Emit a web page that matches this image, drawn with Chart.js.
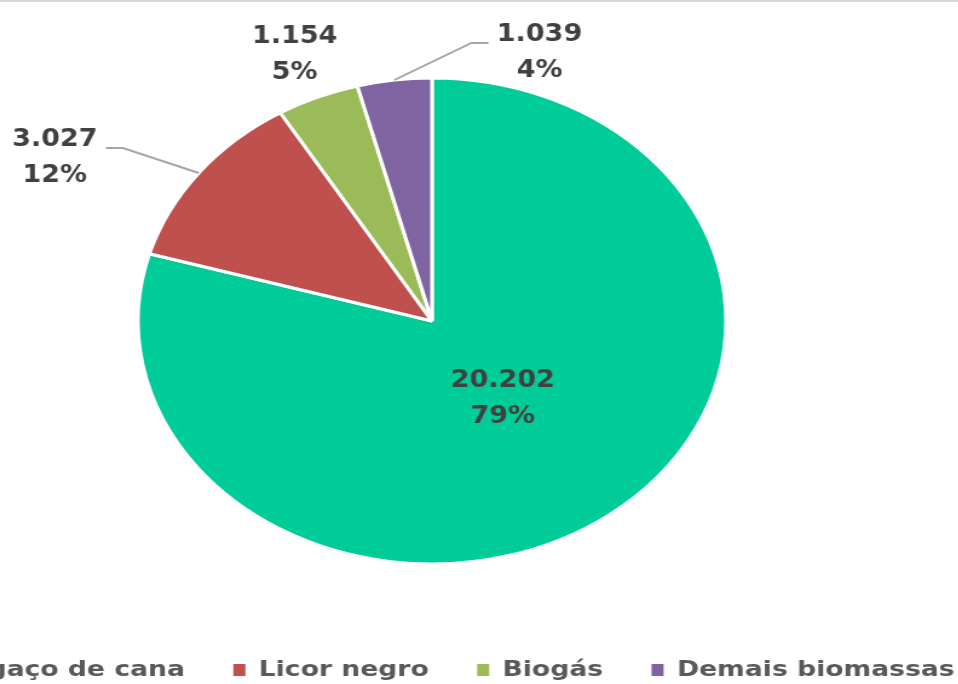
<!DOCTYPE html>
<html>
<head>
<meta charset="utf-8">
<script src="https://cdn.jsdelivr.net/npm/chart.js@4.4.1/dist/chart.umd.min.js"></script>
<style>
  html, body { margin: 0; padding: 0; background: #fff; }
  #frame { position: relative; width: 958px; height: 684px; overflow: hidden; background: #fff; }
  #frame .rule { position: absolute; left: 0; top: 0; width: 100%; height: 2px; background: #d9d9d9; z-index: 2; }
  /* the whole chart is drawn on a narrower canvas and widened afterwards */
  #stretch { position: absolute; left: -173px; top: 0; transform: scaleX(1.21); transform-origin: 0 0; }
</style>
</head>
<body>
<div id="frame">
  <div class="rule"></div>
  <div id="stretch"><canvas id="biomassChart" width="1000" height="691"></canvas></div>
</div>
<script>
const fuels = ["Bagaço de cana", "Licor negro", "Biogás", "Demais biomassas"];
const capacity = [20202, 3027, 1154, 1039];
const sliceColors = ["#00CC99", "#C0504D", "#9BBB59", "#8064A2"];

// where each value label sits: inside the slice, or pushed off the rim (with an optional leader line)
const labelPlacement = [
  { inside: 0.4 },
  { dx: -119, dy: -15, leader: "right" },
  { dx: -19, dy: -42 },
  { dx: 120, dy: -27, leader: "left" }
];

const squeeze = 0.93;   // labels are drawn a little narrower than the font
const lineGap = 36;
const legendNudge = 6;  // legend row sits slightly right of the pie centre

function formatThousands(v) {
  return String(v).replace(/\B(?=(\d{3})+(?!\d))/g, ".");
}

const sliceLabels = {
  id: "sliceLabels",
  afterLayout(chart) {
    chart.legend.left += legendNudge;
    chart.legend.right += legendNudge;
  },
  afterDatasetsDraw(chart) {
    const { ctx } = chart;
    const arcs = chart.getDatasetMeta(0).data;
    const total = capacity.reduce((a, b) => a + b, 0);
    ctx.save();
    ctx.font = 'bold 24px "DejaVu Sans"';
    ctx.fillStyle = "#404040";
    ctx.strokeStyle = "#a6a6a6";
    ctx.lineWidth = 2;
    ctx.textAlign = "center";
    ctx.textBaseline = "middle";

    arcs.forEach((arc, i) => {
      const { x, y, startAngle, endAngle, outerRadius } =
        arc.getProps(["x", "y", "startAngle", "endAngle", "outerRadius"], true);
      const mid = (startAngle + endAngle) / 2;
      const place = labelPlacement[i];
      const lines = [formatThousands(capacity[i]), Math.round(capacity[i] / total * 100) + "%"];
      const rimX = x + Math.cos(mid) * outerRadius;
      const rimY = y + Math.sin(mid) * outerRadius;

      let lx, ly;
      if (place.inside) {
        lx = x + Math.cos(mid) * outerRadius * place.inside;
        ly = y + Math.sin(mid) * outerRadius * place.inside;
      } else {
        lx = rimX + place.dx;
        ly = rimY + place.dy;
      }

      if (place.leader) {
        const half = ctx.measureText(lines[0]).width * squeeze / 2;
        const side = place.leader === "right" ? 1 : -1;
        const endX = lx + side * (half + 7);
        const endY = ly - 10;
        ctx.beginPath();
        ctx.moveTo(rimX, rimY);
        ctx.lineTo(endX + side * 14, endY);
        ctx.lineTo(endX, endY);
        ctx.stroke();
      }

      lines.forEach((t, k) => {
        ctx.save();
        ctx.translate(lx, ly + (k - 0.5) * lineGap);
        ctx.scale(squeeze, 1);
        ctx.fillText(t, 0, 0);
        ctx.restore();
      });
    });
    ctx.restore();
  }
};

const ctx = document.getElementById("biomassChart").getContext("2d");
new Chart(ctx, {
  type: "pie",
  data: {
    labels: fuels,
    datasets: [{
      data: capacity,
      backgroundColor: sliceColors,
      borderColor: "#ffffff",
      borderWidth: 3,
      radius: 243
    }]
  },
  options: {
    responsive: false,
    animation: false,
    layout: { padding: { top: 23 } },
    plugins: {
      tooltip: { enabled: false },
      legend: {
        position: "bottom",
        labels: {
          font: { family: '"DejaVu Sans"', size: 22, weight: "bold" },
          color: "#595959",
          boxWidth: 10,
          boxHeight: 12,
          padding: 40,
          generateLabels(chart) {
            const items = Chart.overrides.pie.plugins.legend.labels.generateLabels(chart);
            items.forEach(it => { it.lineWidth = 0; it.strokeStyle = "rgba(0,0,0,0)"; });
            return items;
          }
        }
      }
    }
  },
  plugins: [sliceLabels]
});
</script>
</body>
</html>
